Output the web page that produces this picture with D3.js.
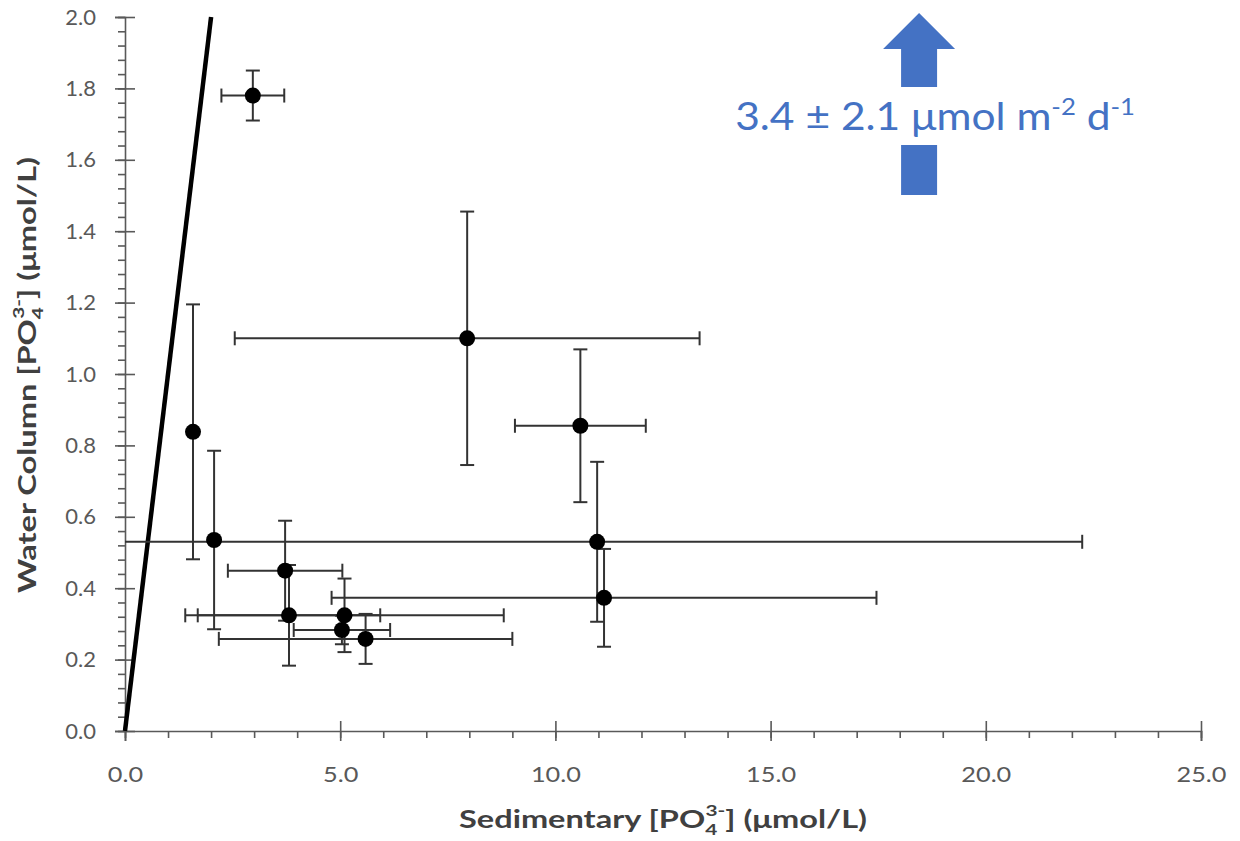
<!DOCTYPE html>
<meta charset="utf-8">
<style>
    body { margin: 0; background: #fff; }
    .tick text { font-family: Lato, "Open Sans", sans-serif; font-size: 22px; fill: #595959; }
    .axis path, .axis line { stroke: #595959; stroke-width: 1.6; }
    .title { font-family: Lato, "Open Sans", sans-serif; font-weight: bold; font-size: 25px; fill: #404040; }
</style>
<body>
<svg width="1240" height="841"></svg>
<script src="https://d3js.org/d3.v7.min.js"></script>
<script>
// sedimentary vs water column phosphate, mean ± sd
var sedX     = [2.97, 7.95, 10.58, 1.58, 2.07, 10.97, 11.13, 3.72, 3.81, 5.10, 5.04, 5.59];
var waterY   = [1.78, 1.10, 0.855, 0.838, 0.535, 0.53, 0.373, 0.449, 0.324, 0.324, 0.283, 0.258];
var sedErr   = [0.73, 5.4, 1.52, 0, 0, 11.27, 6.33, 1.33, 2.12, 3.70, 1.12, 3.41];
var waterErr = [0.07, 0.355, 0.214, 0.357, 0.25, 0.224, 0.137, 0.14, 0.141, 0.103, 0.04, 0.07];

// 1:1 line
var lineX = [0, 2];
var lineY = [0, 2];

var xTicks = [0, 5, 10, 15, 20, 25];
var yTicks = [0, 0.2, 0.4, 0.6, 0.8, 1.0, 1.2, 1.4, 1.6, 1.8, 2.0];
var fluxLabel = "3.4 ± 2.1 μmol m";

var svg = d3.select("svg");
var margin = {left: 125, top: 17, right: 39, bottom: 110};
var width = 1240 - margin.left - margin.right;
var height = 841 - margin.top - margin.bottom;
var g = svg.append("g").attr("transform", "translate(" + margin.left + "," + margin.top + ")");

var x = d3.scaleLinear().domain([0, 25]).range([0, width]);
var y = d3.scaleLinear().domain([0, 2]).range([height, 0]);

// stretch a text horizontally (in its own frame) to a target length
function stretchTo(sel, target, prefix) {
    var w = sel.node().getBBox().width;
    sel.attr("transform", prefix + " scale(" + (target / w) + ",1)");
}

// minor ticks
g.append("g").attr("class", "axis")
    .attr("transform", "translate(0," + height + ")")
    .call(d3.axisBottom(x).tickValues(d3.range(0, 25.01, 1)).tickSize(7).tickFormat(""))
    .select(".domain").remove();
g.append("g").attr("class", "axis")
    .call(d3.axisLeft(y).tickValues(d3.range(0, 2.001, 0.04)).tickSize(7).tickFormat(""))
    .select(".domain").remove();

// major axes
var xAxis = g.append("g").attr("class", "axis")
    .attr("transform", "translate(0," + height + ")")
    .call(d3.axisBottom(x).tickValues(xTicks).tickSizeOuter(0).tickSize(10).tickFormat(d3.format(".1f")));
xAxis.selectAll(".tick line").attr("y1", -10);
xAxis.selectAll(".tick text").attr("y", 35).each(function() {
    stretchTo(d3.select(this), this.getBBox().width * 1.15, "");
});

var yAxis = g.append("g").attr("class", "axis")
    .call(d3.axisLeft(y).tickValues(yTicks).tickSizeOuter(0).tickSize(10).tickFormat(d3.format(".1f")));
yAxis.selectAll(".tick line").attr("x1", 10);
yAxis.selectAll(".tick text").attr("x", -29);

// 1:1 line
g.append("path")
    .datum(d3.zip(lineX, lineY))
    .attr("d", d3.line().x(function(d) { return x(d[0]); }).y(function(d) { return y(d[1]); }))
    .attr("stroke", "#000").attr("stroke-width", 4.5).attr("fill", "none");

// error bars
var pts = d3.range(sedX.length);
var cap = 7;
var eb = g.append("g").attr("stroke", "#333").attr("stroke-width", 2);
pts.forEach(function(i) {
    var cx = x(sedX[i]), cy = y(waterY[i]);
    if (sedErr[i] > 0) {
        var lo = sedX[i] - sedErr[i], hi = sedX[i] + sedErr[i];
        eb.append("line").attr("x1", x(Math.max(lo, 0))).attr("x2", x(hi)).attr("y1", cy).attr("y2", cy);
        if (lo > 0) eb.append("line").attr("x1", x(lo)).attr("x2", x(lo)).attr("y1", cy - cap).attr("y2", cy + cap);
        eb.append("line").attr("x1", x(hi)).attr("x2", x(hi)).attr("y1", cy - cap).attr("y2", cy + cap);
    }
    if (waterErr[i] > 0) {
        var ylo = y(waterY[i] - waterErr[i]), yhi = y(waterY[i] + waterErr[i]);
        eb.append("line").attr("x1", cx).attr("x2", cx).attr("y1", ylo).attr("y2", yhi);
        eb.append("line").attr("x1", cx - cap).attr("x2", cx + cap).attr("y1", ylo).attr("y2", ylo);
        eb.append("line").attr("x1", cx - cap).attr("x2", cx + cap).attr("y1", yhi).attr("y2", yhi);
    }
});

g.append("g").selectAll("circle")
    .data(pts)
    .enter().append("circle")
    .attr("cx", function(i) { return x(sedX[i]); })
    .attr("cy", function(i) { return y(waterY[i]); })
    .attr("r", 8)
    .attr("fill", "#000");

// flux arrow annotation
var blue = "#4472C4";
var ax = x(18.45);
var ann = g.append("g").attr("fill", blue);
ann.append("path")
    .attr("d", "M" + ax + "," + (y(2) - 4) + " L" + (ax + 36) + "," + (y(2) + 32) + " L" + (ax + 18) + "," + (y(2) + 32)
        + " L" + (ax + 18) + "," + (y(2) + 70) + " L" + (ax - 18) + "," + (y(2) + 70) + " L" + (ax - 18) + "," + (y(2) + 32)
        + " L" + (ax - 36) + "," + (y(2) + 32) + "Z");
ann.append("rect").attr("x", ax - 18).attr("y", y(2) + 128).attr("width", 36).attr("height", 50);

var ft = ann.append("text")
    .attr("text-anchor", "middle")
    .style("font-family", "Lato, 'Open Sans', sans-serif").style("font-size", "38px");
ft.append("tspan").text(fluxLabel);
ft.append("tspan").text("-2").attr("dy", -15).style("font-size", "23px");
ft.append("tspan").text(" d").attr("dy", 15);
ft.append("tspan").text("-1").attr("dy", -15).style("font-size", "23px");
stretchTo(ft, 400, "translate(" + (ax + 16) + "," + (y(2) + 113) + ")");

// axis titles
function chem(sel, before, after) {
    sel.append("tspan").text(before + "[PO");
    sel.append("tspan").text("4").attr("dy", 7).style("font-size", "16px");
    sel.append("tspan").text("3-").attr("dx", -9).attr("dy", -19).style("font-size", "16px");
    sel.append("tspan").text("] " + after).attr("dy", 12);
}
var xt = g.append("text").attr("class", "title").attr("text-anchor", "middle");
chem(xt, "Sedimentary ", "(μmol/L)");
stretchTo(xt, 408, "translate(" + (width / 2) + "," + (height + 97) + ")");

var yt = g.append("text").attr("class", "title").attr("text-anchor", "middle");
chem(yt, "Water Column ", "(μmol/L)");
stretchTo(yt, 436, "translate(-89," + (375 - margin.top) + ") rotate(-90)");
</script>
</body>
